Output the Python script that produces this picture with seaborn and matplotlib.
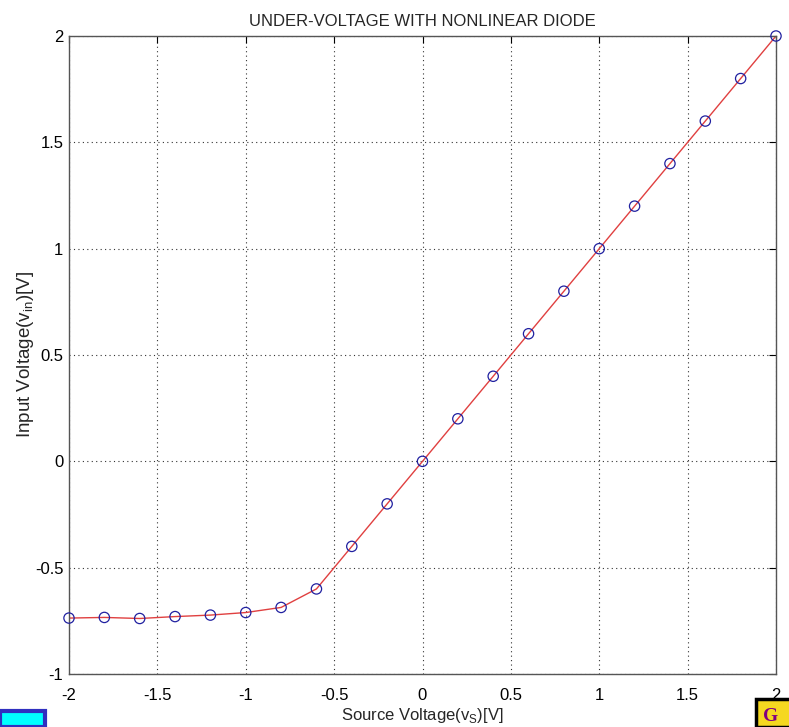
import matplotlib
matplotlib.use("Agg")
import matplotlib.pyplot as plt
import matplotlib.patches as mpatches
import seaborn as sns
import pandas as pd

source_v = [-2.0, -1.8, -1.6, -1.4, -1.2, -1.0, -0.8, -0.6, -0.4, -0.2,
            0.0, 0.2, 0.4, 0.6, 0.8, 1.0, 1.2, 1.4, 1.6, 1.8, 2.0]
input_v = [-0.737, -0.734, -0.739, -0.730, -0.723, -0.711, -0.687, -0.600, -0.400, -0.200,
           0.0, 0.2, 0.4, 0.6, 0.8, 1.0, 1.2, 1.4, 1.6, 1.8, 2.0]
x_ticks = [-2, -1.5, -1, -0.5, 0, 0.5, 1, 1.5, 2]
x_tick_labels = ["-2", "-1.5", "-1", "-0.5", "0", "0.5", "1", "1.5", "2"]
y_ticks = [-1, -0.5, 0, 0.5, 1, 1.5, 2]
y_tick_labels = ["-1", "-0.5", "0", "0.5", "1", "1.5", "2"]

df = pd.DataFrame({"vs": source_v, "vin": input_v})

sns.set_style("white")
plt.rcParams["font.family"] = ["Liberation Sans", "DejaVu Sans"]

fig = plt.figure(figsize=(7.89, 7.27), dpi=100)
ax = fig.add_axes([69 / 789, 1 - 674 / 727, (776 - 69) / 789, (674 - 36) / 727])

sns.lineplot(data=df, x="vs", y="vin", ax=ax, color="#e04040", linewidth=1.0,
             sort=False, estimator=None)
sns.scatterplot(data=df, x="vs", y="vin", ax=ax, marker="o", s=55,
                facecolors="none", edgecolor="#2020a0", linewidth=0.9, zorder=3,
                clip_on=False)

ax.set_xlim(-2, 2)
ax.set_ylim(-1, 2)
ax.set_xticks(x_ticks)
ax.set_xticklabels(x_tick_labels)
ax.set_yticks(y_ticks)
ax.set_yticklabels(y_tick_labels)
ax.grid(True, linestyle=(0, (1, 3)), color="#333333", linewidth=0.8)
ax.tick_params(direction="in", top=True, right=True, length=5, width=0.8,
               labelsize=12, colors="black", pad=4)
ax.tick_params(axis="x", pad=10)
for sp in ax.spines.values():
    sp.set_color("#555555")
    sp.set_linewidth(1.0)

ax.set_title("UNDER-VOLTAGE WITH NONLINEAR DIODE", fontsize=12, pad=7)
ax.set_xlabel("Source Voltage(v$_\\mathregular{S}$)[V]", fontsize=12, labelpad=2)
ax.set_ylabel("Input Voltage(v$_\\mathregular{in}$)[V]", fontsize=13.5, labelpad=-1)

# decorative boxes at the bottom corners
fig.patches.append(mpatches.Rectangle((0, 0), 45 / 789, 16 / 727, transform=fig.transFigure,
                                      facecolor="#00ffff", edgecolor="#3030c0", linewidth=3,
                                      figure=fig))
fig.patches.append(mpatches.Rectangle((756 / 789, 0), 40 / 789, 28 / 727, transform=fig.transFigure,
                                      facecolor="#f5d820", edgecolor="black", linewidth=2.5,
                                      figure=fig))
fig.text(763 / 789, 2 / 727, "G", color="#800080", fontsize=14, fontweight="bold",
         family=["Liberation Serif", "DejaVu Serif"], ha="left", va="bottom")

fig.savefig("out.png", dpi=100)
